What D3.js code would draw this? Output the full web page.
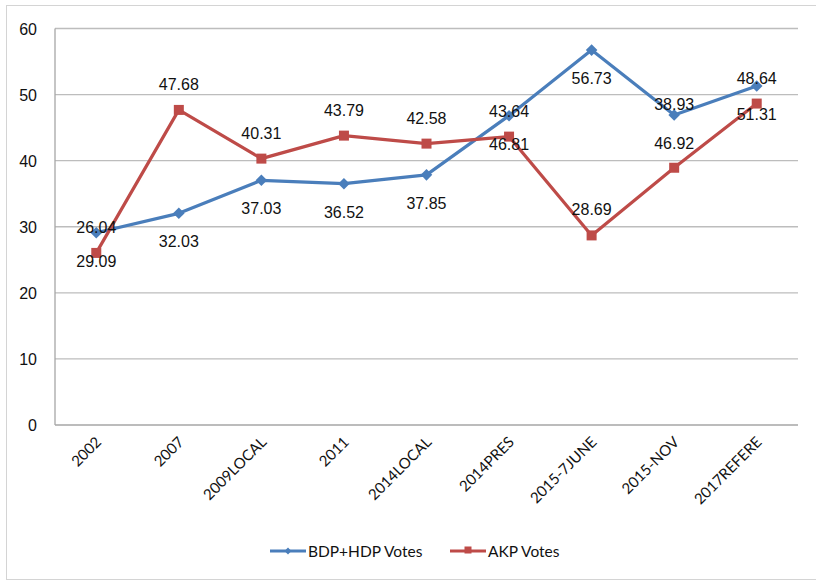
<!DOCTYPE html>
<html>
<head>
<meta charset="utf-8">
<script src="https://cdn.jsdelivr.net/npm/d3@7"></script>
<style>
  body { margin: 0; background: #fff; }
  .val { font-family: "Liberation Sans", Arial, sans-serif; font-size: 16px; fill: #111; }
  .ytick { font-family: "Liberation Sans", Arial, sans-serif; font-size: 16px; fill: #111; }
  .xtick { font-family: Lato, "Liberation Sans Narrow", sans-serif; font-size: 15px; fill: #111; }
  .leg { font-family: Lato, "Liberation Sans Narrow", sans-serif; font-size: 15.5px; fill: #111; }
</style>
</head>
<body>
<div id="chart"></div>
<script>
var categories = ["2002", "2007", "2009LOCAL", "2011", "2014LOCAL", "2014PRES", "2015-7JUNE", "2015-NOV", "2017REFERE"];
var hdpVotes = [29.09, 32.03, 37.03, 36.52, 37.85, 46.81, 56.73, 46.92, 51.31];
var akpVotes = [26.04, 47.68, 40.31, 43.79, 42.58, 43.64, 28.69, 38.93, 48.64];
var yTicks = [0, 10, 20, 30, 40, 50, 60];
var seriesNames = ["BDP+HDP Votes", "AKP Votes"];

var width = 816, height = 581;
var blue = "#4a7ebb", red = "#be4b48";

var svg = d3.select("#chart")
  .append("svg")
  .attr("width", width)
  .attr("height", height);

// outer frame
svg.append("rect")
  .attr("x", 6.5)
  .attr("y", 5.5)
  .attr("width", 812)
  .attr("height", 574)
  .attr("fill", "none")
  .attr("stroke", "#d4d4d4");

var x = d3.scalePoint().domain(categories).range([55, 798]).padding(0.5);
var y = d3.scaleLinear().domain([0, 60]).range([425, 28.5]);

// gridlines
svg.append("g")
  .selectAll("line")
  .data(yTicks.filter(function(d) { return d > 0; }))
  .enter()
  .append("line")
  .attr("x1", 55)
  .attr("x2", 798)
  .attr("y1", function(d) { return y(d); })
  .attr("y2", function(d) { return y(d); })
  .attr("stroke", "#bdbdbd")
  .attr("stroke-width", 1.3);

// axes lines
svg.append("line")
  .attr("x1", 55).attr("x2", 55)
  .attr("y1", y(60)).attr("y2", y(0))
  .attr("stroke", "#a6a6a6").attr("stroke-width", 1.3);
svg.append("line")
  .attr("x1", 55).attr("x2", 798)
  .attr("y1", y(0)).attr("y2", y(0))
  .attr("stroke", "#a6a6a6").attr("stroke-width", 1.3);

// y labels
svg.append("g")
  .selectAll("text")
  .data(yTicks)
  .enter()
  .append("text")
  .attr("class", "ytick")
  .attr("x", 37)
  .attr("y", function(d) { return y(d) + 6; })
  .attr("text-anchor", "end")
  .text(function(d) { return d; });

// x labels
svg.append("g")
  .selectAll("text")
  .data(categories)
  .enter()
  .append("text")
  .attr("class", "xtick")
  .attr("text-anchor", "end")
  .attr("transform", function(d) {
    return "translate(" + (x(d) + 6) + "," + (y(0) + 18) + ") rotate(-45)";
  })
  .text(function(d) { return d; });

var line = d3.line()
  .x(function(d, i) { return x(categories[i]); })
  .y(function(d) { return y(d); });

// blue series
svg.append("path")
  .datum(hdpVotes)
  .attr("d", line)
  .attr("fill", "none")
  .attr("stroke", blue)
  .attr("stroke-width", 3.2)
  .attr("stroke-linejoin", "round");

svg.append("g")
  .selectAll("path")
  .data(hdpVotes)
  .enter()
  .append("path")
  .attr("d", d3.symbol().type(d3.symbolDiamond2).size(85))
  .attr("transform", function(d, i) {
    return "translate(" + x(categories[i]) + "," + y(d) + ")";
  })
  .attr("fill", blue);

// red series
svg.append("path")
  .datum(akpVotes)
  .attr("d", line)
  .attr("fill", "none")
  .attr("stroke", red)
  .attr("stroke-width", 3.2)
  .attr("stroke-linejoin", "round");

svg.append("g")
  .selectAll("rect")
  .data(akpVotes)
  .enter()
  .append("rect")
  .attr("x", function(d, i) { return x(categories[i]) - 5; })
  .attr("y", function(d) { return y(d) - 5; })
  .attr("width", 10)
  .attr("height", 10)
  .attr("fill", red);

// data labels: blue below its point, red above its point
var fmt = d3.format(".2f");
svg.append("g")
  .selectAll("text")
  .data(hdpVotes)
  .enter()
  .append("text")
  .attr("class", "val")
  .attr("text-anchor", "middle")
  .attr("x", function(d, i) { return x(categories[i]); })
  .attr("y", function(d) { return y(d) + 34; })
  .text(function(d) { return fmt(d); });

svg.append("g")
  .selectAll("text")
  .data(akpVotes)
  .enter()
  .append("text")
  .attr("class", "val")
  .attr("text-anchor", "middle")
  .attr("x", function(d, i) { return x(categories[i]); })
  .attr("y", function(d, i) {
    var ty = y(d) - 20;
    var by = y(hdpVotes[i]) + 34;
    // avoid overlapping the blue label: move above the blue point
    if (Math.abs(ty - by) < 16) ty = y(hdpVotes[i]) - 5;
    return ty;
  })
  .text(function(d) { return fmt(d); });

// legend
var legend = svg.append("g").attr("transform", "translate(0,551)");
var legColors = [blue, red];
var legX = [270, 450];
seriesNames.forEach(function(name, i) {
  var g = legend.append("g").attr("transform", "translate(" + legX[i] + ",0)");
  g.append("line")
    .attr("x1", 0).attr("x2", 36)
    .attr("y1", 0).attr("y2", 0)
    .attr("stroke", legColors[i])
    .attr("stroke-width", 3.2);
  if (i === 0) {
    g.append("path")
      .attr("d", d3.symbol().type(d3.symbolDiamond2).size(30))
      .attr("transform", "translate(18,0)")
      .attr("fill", legColors[i]);
  } else {
    g.append("rect")
      .attr("x", 14.5).attr("y", -4.5)
      .attr("width", 7).attr("height", 7)
      .attr("fill", legColors[i]);
  }
  g.append("text")
    .attr("class", "leg")
    .attr("x", 38)
    .attr("y", 6)
    .text(name);
});
</script>
</body>
</html>
